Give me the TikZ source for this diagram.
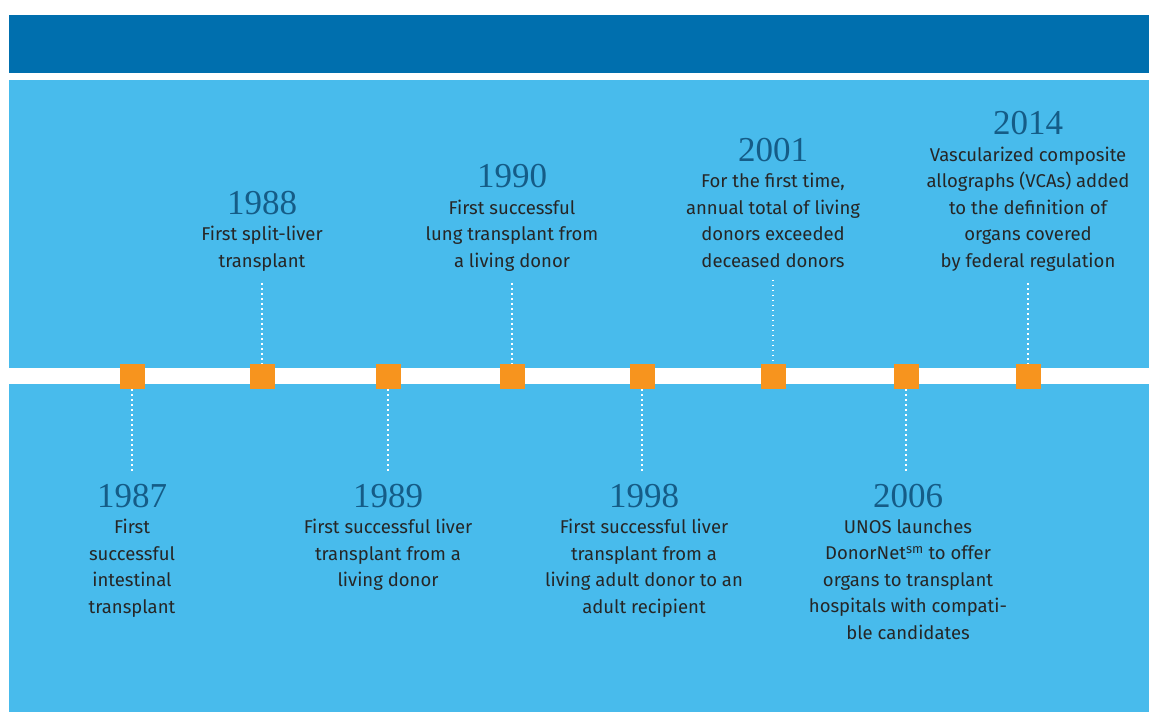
\documentclass[tikz,border=0pt]{standalone}
\usepackage{fontspec}
\setmainfont{Liberation Serif}
\newfontfamily\descfont{Fira Sans}
\usepackage{xcolor}
\definecolor{bandblue}{HTML}{006FAE}
\definecolor{skyblue}{HTML}{48BBEC}
\definecolor{boxorange}{HTML}{F7941E}
\definecolor{yearblue}{HTML}{155C87}
\definecolor{textgray}{HTML}{262626}

\begin{document}
\begin{tikzpicture}[x=1pt,y=-1pt,
		orangebox/.style={fill=boxorange,minimum size=25pt,inner sep=0pt},
		year/.style={font=\fontsize{35}{35}\selectfont,text=yearblue,inner sep=0pt,anchor=base},
		event/.style={font=\descfont\fontsize{18.5}{26.5}\selectfont,text=textgray,align=center,inner sep=0pt,execute at begin node={\rule{0pt}{15pt}},anchor=north,at={([yshift=-11.5pt]#1.south)}},
		leader/.style={white,line width=1.8pt,dash pattern=on 1.8pt off 3.2pt}]
			\useasboundingbox (0,0) rectangle (1149,712);
			\fill[bandblue] (9,15) rectangle (1149,73);
			\fill[skyblue] (9,80) rectangle (1149,712);
			\fill[white] (9,368) rectangle (1149,384);
			\node[orangebox] (m87) at (132,376.5) {};
			\node[orangebox] (m88) at (262,376.5) {};
			\node[orangebox] (m89) at (388,376.5) {};
			\node[orangebox] (m90) at (512,376.5) {};
			\node[orangebox] (m98) at (642,376.5) {};
			\node[orangebox] (m01) at (773,376.5) {};
			\node[orangebox] (m06) at (906,376.5) {};
			\node[orangebox] (m14) at (1028,376.5) {};
			\node[year] (y88) at (262,214) {1988};
			\node[event=y88] (e88) {First split-liver\\transplant};
			\node[year] (y90) at (512,187.5) {1990};
			\node[event=y90] (e90) {First successful\\lung transplant from\\a living donor};
			\node[year] (y01) at (773,161) {2001};
			\node[event=y01] (e01) {For the first time,\\annual total of living\\donors exceeded\\deceased donors};
			\node[year] (y14) at (1028,134.5) {2014};
			\node[event=y14] (e14) {Vascularized composite\\allographs (VCAs) added\\to the definition of\\organs covered\\by federal regulation};
			\node[year] (y87) at (132,507) {1987};
			\node[event=y87] (e87) {First\\successful\\intestinal\\transplant};
			\node[year] (y89) at (388,507) {1989};
			\node[event=y89] (e89) {First successful liver\\transplant from a\\living donor};
			\node[year] (y98) at (644,507) {1998};
			\node[event=y98] (e98) {First successful liver\\transplant from a\\living adult donor to an\\adult recipient};
			\node[year] (y06) at (908,507) {2006};
			\node[event=y06] (e06) {UNOS launches\\DonorNet\textsuperscript{sm} to offer\\organs to transplant\\hospitals with compati-\\ble candidates};
			\draw[leader,shorten <=12pt] (e88.south) -- (m88.north);
			\draw[leader,shorten <=12pt] (e90.south) -- (m90.north);
			\draw[leader,shorten <=12pt] (e01.south) -- (m01.north);
			\draw[leader,shorten <=12pt] (e14.south) -- (m14.north);
			\draw[leader,shorten >=12pt] (m87.south) -- (m87.south |- y87.north);
			\draw[leader,shorten >=12pt] (m89.south) -- (m89.south |- y89.north);
			\draw[leader,shorten >=12pt] (m98.south) -- (m98.south |- y98.north);
			\draw[leader,shorten >=12pt] (m06.south) -- (m06.south |- y06.north);
		\end{tikzpicture}
\end{document}
